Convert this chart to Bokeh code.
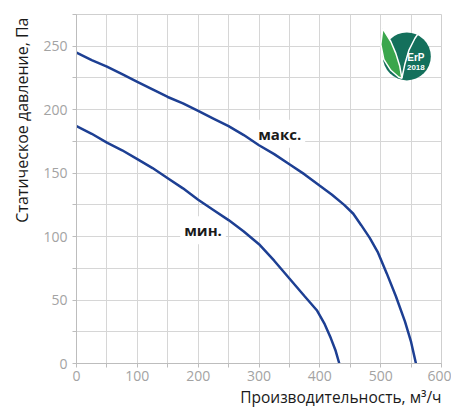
import numpy as np
from bokeh.plotting import figure
from bokeh.models import FixedTicker, Label, Range1d, Title
from bokeh.embed import file_html
from bokeh.resources import INLINE

# Data
max_x = [0, 25, 50, 75, 100, 125, 150, 175, 200, 225, 250, 275, 300, 325, 350, 375,
         400, 420, 440, 455, 468, 482, 495, 510, 525, 540, 550, 558]
max_y = [245, 239, 234, 228, 222, 216, 210, 205, 199, 193, 187, 180, 172, 165, 157, 149,
         140, 133, 125, 118, 109, 99, 88, 71, 53, 33, 17, 0]
min_x = [0, 25, 50, 75, 100, 125, 150, 175, 200, 225, 250, 275, 300, 325, 350, 375,
         395, 408, 418, 426, 432]
min_y = [187, 181, 174, 168, 161, 154, 146, 138, 129, 121, 113, 104, 94, 81, 67, 53,
         42, 31, 20, 10, 0]

x_ticks = list(range(0, 601, 50))
y_ticks = list(range(0, 276, 25))
x_label = "Производительность, м³/ч"
y_label = "Статическое давление, Па"

FONT = "Open Sans"
LINE = "#1d3f93"

p = figure(width=451, height=407, output_backend="svg", toolbar_location=None,
           x_range=Range1d(0, 600), y_range=Range1d(0, 275),
           min_border_left=76, min_border_right=10, min_border_top=14, min_border_bottom=42)
p.background_fill_color = "white"
p.border_fill_color = "white"
p.outline_line_color = "#cfcfcf"
p.outline_line_width = 1

for ax, ticks, step in ((p.xaxis[0], x_ticks, 100), (p.yaxis[0], y_ticks, 50)):
    ax.ticker = FixedTicker(ticks=ticks)
    ax.major_label_overrides = {t: (str(t) if t % step == 0 else "") for t in ticks}
    ax.minor_tick_line_color = None
    ax.axis_line_color = "#bdbdbd"
    ax.major_tick_line_color = "#bdbdbd"
    ax.major_tick_out = 4
    ax.major_tick_in = 0
    ax.major_label_text_color = "#a3a3a3"
    ax.major_label_text_font = FONT
    ax.major_label_text_font_size = "14px"
    ax.major_label_standoff = 5
p.xaxis[0].major_label_standoff = 3

p.xgrid.grid_line_color = "#d6d6d6"
p.ygrid.grid_line_color = "#d6d6d6"

for txt, x, y in (("макс.", 334, 181), ("мин.", 208, 105)):
    p.add_layout(Label(x=x, y=y, text=txt, text_align="center", text_baseline="middle",
                       text_font=FONT, text_font_size="15px", text_font_style="bold",
                       text_color="#1a1a1a", background_fill_color="white",
                       padding=4, level="underlay"))

p.line(max_x, max_y, line_color=LINE, line_width=2.5)
p.line(min_x, min_y, line_color=LINE, line_width=2.5)

p.add_layout(Title(text=x_label, align="right", text_font=FONT, text_font_size="15.5px",
                   text_font_style="normal", text_color="#1a1a1a", standoff=0, offset=0),
             "below")
p.add_layout(Title(text=y_label, align="right", text_font=FONT, text_font_size="16px",
                   text_font_style="normal", text_color="#1a1a1a", standoff=16, offset=3),
             "left")

# ErP logo (decoration)
sx, sy = 0.608, 1.278  # pixels per data unit
cx, cy = 543, 242
p.scatter([cx], [cy], size=48, marker="circle", fill_color="#14705c", line_color=None)
leaf_px = [(-24, -28), (-26, -12), (-23, 3), (-16, 14), (-8, 21), (-5, 22),
           (-7, 10), (-11, -3), (-16, -15), (-24, -28)]
p.patch([cx + dx / sx for dx, dy in leaf_px], [cy - dy / sy for dx, dy in leaf_px],
        fill_color="#3aa64c", line_color="white", line_width=1.5)
stroke_px = [(-5, 22), (-2, 8), (2, -6), (8, -18), (12, -24)]
p.line([cx + dx / sx for dx, dy in stroke_px], [cy - dy / sy for dx, dy in stroke_px],
       line_color="white", line_width=1.5)
p.text([cx + 9 / sx], [cy - 1 / sy], text=["ErP"], text_align="center", text_baseline="middle",
       text_font_size="10px", text_color="white", text_font_style="bold")
p.text([cx + 9 / sx], [cy - 11 / sy], text=["2018"], text_align="center", text_baseline="middle",
       text_font_size="8px", text_color="white", text_font_style="bold")

open("out.html", "w").write(file_html(p, INLINE))
